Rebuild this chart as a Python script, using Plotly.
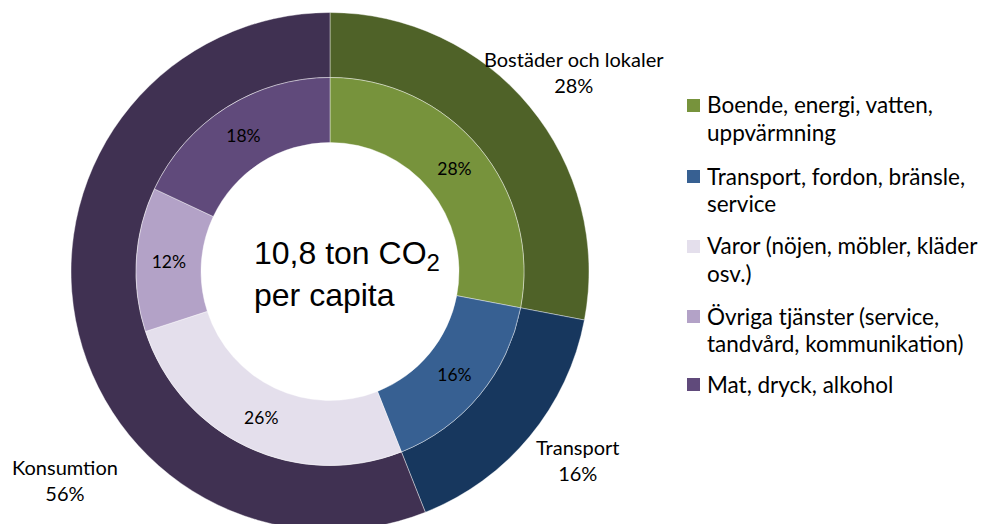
import plotly.graph_objects as go

# ---------------- data ----------------
outer_labels = ["Bostäder och lokaler", "Transport", "Konsumtion"]
outer_values = [28, 16, 56]
outer_colors = ["#4F6228", "#17375E", "#403152"]

inner_labels = [
    "Boende, energi, vatten,<br>uppvärmning",
    "Transport, fordon, bränsle,<br>service",
    "Varor (nöjen, möbler, kläder<br>osv.)",
    "Övriga tjänster (service,<br>tandvård, kommunikation)",
    "Mat, dryck, alkohol",
]
inner_values = [28, 16, 26, 12, 18]
inner_colors = ["#77933C", "#376092", "#E4DFEC", "#B3A2C7", "#604A7B"]

center_text = "10,8 ton CO<sub><span style='font-size:24px'>2</span></sub><br>per capita"

# ---------------- layout helpers ----------------
W, H = 985, 540
CX, CY = 330, 271.5
R_OUT, R_MID, R_IN = 259, 194, 129


def px(x):
    return x / W


def py(y):
    return 1 - y / H


def dom(r):
    return dict(x=[px(CX - r), px(CX + r)], y=[py(CY + r), py(CY - r)])


LATO = "Lato, Calibri, sans-serif"

fig = go.Figure()

fig.add_trace(go.Pie(
    labels=outer_labels,
    values=outer_values,
    marker=dict(colors=outer_colors, line=dict(color="rgba(255,255,255,0.5)", width=0.8)),
    hole=R_MID / R_OUT,
    domain=dom(R_OUT),
    sort=False,
    direction="clockwise",
    rotation=0,
    textinfo="none",
    hoverinfo="label+percent",
    showlegend=False,
))

fig.add_trace(go.Pie(
    labels=[l.replace("<br>", " ") for l in inner_labels],
    values=inner_values,
    marker=dict(colors=inner_colors, line=dict(color="rgba(255,255,255,0.5)", width=0.8)),
    hole=R_IN / R_MID,
    domain=dom(R_MID),
    sort=False,
    direction="clockwise",
    rotation=0,
    texttemplate="%{value}%",
    textposition="inside",
    insidetextorientation="horizontal",
    textfont=dict(family=LATO, size=17.5, color="#000000"),
    hoverinfo="label+percent",
    showlegend=False,
))

annotations = []
shapes = []

# outer ring labels
outer_label_pos = [(574, 72), (578, 460), (65, 480)]
for lab, val, (x, y) in zip(outer_labels, outer_values, outer_label_pos):
    annotations.append(dict(
        x=px(x), y=py(y), xref="paper", yref="paper",
        xanchor="center", yanchor="middle", showarrow=False,
        text=f"{lab}<br>{val}%", align="center",
        font=dict(family=LATO, size=20, color="#000000"),
    ))

# centre text
annotations.append(dict(
    x=px(252), y=py(274), xref="paper", yref="paper",
    xanchor="left", yanchor="middle", showarrow=False,
    text=center_text, align="left",
    font=dict(family="Liberation Sans, Arial, sans-serif", size=32, color="#000000"),
))

# legend (manual, to match line/item spacing)
legend_y = [105, 176, 246, 316, 384]
LINE = 27.5
for lab, col, y0 in zip(inner_labels, inner_colors, legend_y):
    shapes.append(dict(
        type="rect", xref="paper", yref="paper",
        x0=px(687), x1=px(700), y0=py(y0 + 7), y1=py(y0 - 6),
        fillcolor=col, line=dict(width=0),
    ))
    for k, line in enumerate(lab.split("<br>")):
        annotations.append(dict(
            x=px(705), y=py(y0 + k * LINE), xref="paper", yref="paper",
            xanchor="left", yanchor="middle", showarrow=False,
            text=line, align="left",
            font=dict(family=LATO, size=22.5, color="#000000"),
        ))

fig.update_layout(
    width=W, height=H,
    margin=dict(l=0, r=0, t=0, b=0),
    paper_bgcolor="white",
    plot_bgcolor="white",
    annotations=annotations,
    shapes=shapes,
    showlegend=False,
)

fig.write_html(
    "out.html",
    config={"displayModeBar": False},
    post_script="document.body.style.margin='0';document.body.style.overflow='hidden';document.documentElement.style.overflow='hidden';",
)
